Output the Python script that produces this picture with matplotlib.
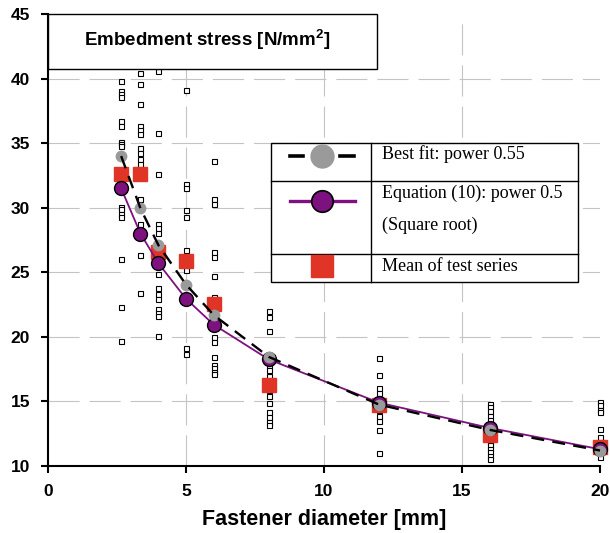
import matplotlib
matplotlib.use("Agg")
import matplotlib.pyplot as plt
from matplotlib.patches import Rectangle

diameters = [2.65, 3.35, 4, 5, 6, 8, 12, 16, 20]

# individual test results per diameter
test_values = [
    [39.8, 39.0, 38.8, 38.6, 36.7, 36.3, 35.1, 34.95, 34.75, 30.05, 29.9, 29.55, 29.3, 26.0, 22.35, 19.65],
    [40.4, 39.6, 38.05, 36.35, 36.0, 35.7, 34.6, 34.2, 33.75, 33.35, 30.7, 28.75, 26.35, 23.4],
    [40.6, 35.8, 32.6, 28.75, 28.4, 28.05, 26.7, 24.85, 23.75, 23.3, 22.9, 22.15, 21.85, 21.6, 20.1],
    [39.15, 31.85, 31.55, 29.85, 29.25, 26.75, 25.15, 19.15, 18.7],
    [33.65, 30.7, 30.3, 26.55, 26.2, 24.75, 23.1, 21.55, 20.0, 19.6, 18.45, 17.8, 17.55, 17.3, 17.15],
    [22.0, 21.55, 20.45, 18.15, 17.8, 17.45, 17.0, 15.85, 15.45, 14.85, 14.15, 13.8, 13.4, 13.15],
    [18.4, 17.05, 16.05, 15.65, 14.3, 13.9, 13.5, 12.8, 11.0],
    [14.8, 14.55, 14.25, 13.9, 13.55, 12.9, 11.85, 11.6, 11.35, 11.05, 10.8, 10.55],
    [14.95, 14.7, 14.3, 14.15, 12.9, 12.25, 11.0, 10.7],
]
means = [32.6, 32.6, 26.6, 25.9, 22.55, 16.3, 14.75, 12.4, 11.5]
best_fit = [34.0, 29.95, 27.1, 24.05, 21.7, 18.45, 14.75, 12.8, 11.2]
eq10 = [31.5, 28.0, 25.7, 22.95, 20.95, 18.25, 14.9, 12.95, 11.3]

legend_labels = ["Best fit: power 0.55", "Equation (10): power 0.5", "(Square root)", "Mean of test series"]

purple = "#7d117f"
red = "#e03526"
grey = "#9a9a9a"

plt.rcParams["font.family"] = "Liberation Sans"
plt.rcParams["mathtext.fontset"] = "custom"
plt.rcParams["mathtext.bf"] = "Liberation Sans:bold"

fig = plt.figure(figsize=(6.1, 5.33), dpi=100)
ax = fig.add_axes([48 / 610, 1 - 466 / 533, 552 / 610, 452 / 533])
ax.set_xlim(0, 20)
ax.set_ylim(10, 45)

# grid
for yv in [15, 20, 25, 30, 35, 40]:
    ax.axhline(yv, color="#c4c4c4", lw=0.8, ls=(0, (28, 9)), zorder=0)
for xv in [5, 10, 15]:
    ax.axvline(xv, color="#c4c4c4", lw=0.8, ls=(0, (28, 9)), zorder=0)

# test results
for d, vals in zip(diameters, test_values):
    ax.plot([d] * len(vals), vals, ls="none", marker="s", ms=3.6, mfc="white",
            mec="black", mew=0.8, zorder=2, clip_on=False)

ax.plot(diameters, means, ls="none", marker="s", ms=10, mfc=red, mec=red,
        zorder=3, clip_on=False)
ax.plot(diameters, eq10, color=purple, lw=1.3, marker="o", ms=10, mfc=purple,
        mec="black", mew=1.0, zorder=4, clip_on=False)
ax.plot(diameters, best_fit, ls="none", marker="o", ms=7.5, mfc=grey, mec=grey,
        zorder=5, clip_on=False)
ax.plot(diameters, best_fit, color="black", lw=1.7, ls=(0, (5.5, 3.5)), zorder=6,
        clip_on=False)

# title box
ax.add_patch(Rectangle((0, 0.878), 0.596, 0.122, transform=ax.transAxes,
                       facecolor="white", edgecolor="black", lw=1.0, zorder=8,
                       clip_on=False))
ax.text(0.289, 0.943, r"Embedment stress [N/mm$^\mathbf{2}$]", transform=ax.transAxes,
        ha="center", va="center", fontsize=13.5, fontweight="bold", zorder=9)

# legend table
lx0, lx1, ldiv = 0.4035, 0.960, 0.585
ly0, ly1 = 0.4077, 0.7153
ax.add_patch(Rectangle((lx0, ly0), lx1 - lx0, ly1 - ly0, transform=ax.transAxes,
                       facecolor="white", edgecolor="black", lw=1.0, zorder=8))
ax.plot([ldiv, ldiv], [ly0, ly1], color="black", lw=1.0, transform=ax.transAxes, zorder=9)
for yy in [0.6305, 0.4684]:
    ax.plot([lx0, lx1], [yy, yy], color="black", lw=1.0, transform=ax.transAxes, zorder=9)

sx = 0.4958
ax.plot([0.4375, 0.4618], [0.6858, 0.6858], color="black", lw=2.6,
        transform=ax.transAxes, zorder=9)
ax.plot([0.529, 0.5543], [0.6858, 0.6858], color="black", lw=2.6,
        transform=ax.transAxes, zorder=9)
ax.plot([sx], [0.6858], marker="o", ms=16.5, mfc=grey, mec=grey,
        transform=ax.transAxes, zorder=10)
ax.plot([0.4375, 0.5561], [0.5863, 0.5863], color=purple, lw=2.4,
        transform=ax.transAxes, zorder=9)
ax.plot([sx], [0.5863], marker="o", ms=15.5, mfc=purple, mec="black", mew=1.2,
        transform=ax.transAxes, zorder=10)
ax.plot([sx], [0.4425], marker="s", ms=16, mfc=red, mec=red,
        transform=ax.transAxes, zorder=10)

tx = 0.6045
for lab, ty in zip(legend_labels, [0.690, 0.6033, 0.5332, 0.441]):
    ax.text(tx, ty, lab, transform=ax.transAxes, ha="left", va="center",
            fontsize=13, family="Liberation Serif", zorder=10)

# axes
ax.spines["top"].set_visible(False)
ax.spines["right"].set_visible(False)
ax.spines["left"].set_linewidth(1.5)
ax.spines["bottom"].set_linewidth(1.5)
ax.set_xticks([0, 5, 10, 15, 20])
ax.set_yticks([10, 15, 20, 25, 30, 35, 40, 45])
ax.tick_params(direction="out", length=5, width=1.5, labelsize=12.5, pad=8)
for lab in ax.get_xticklabels() + ax.get_yticklabels():
    lab.set_fontweight("bold")
ax.set_xlabel("Fastener diameter [mm]", fontsize=15.5, fontweight="bold", labelpad=7)

fig.savefig("out.png", dpi=100)
